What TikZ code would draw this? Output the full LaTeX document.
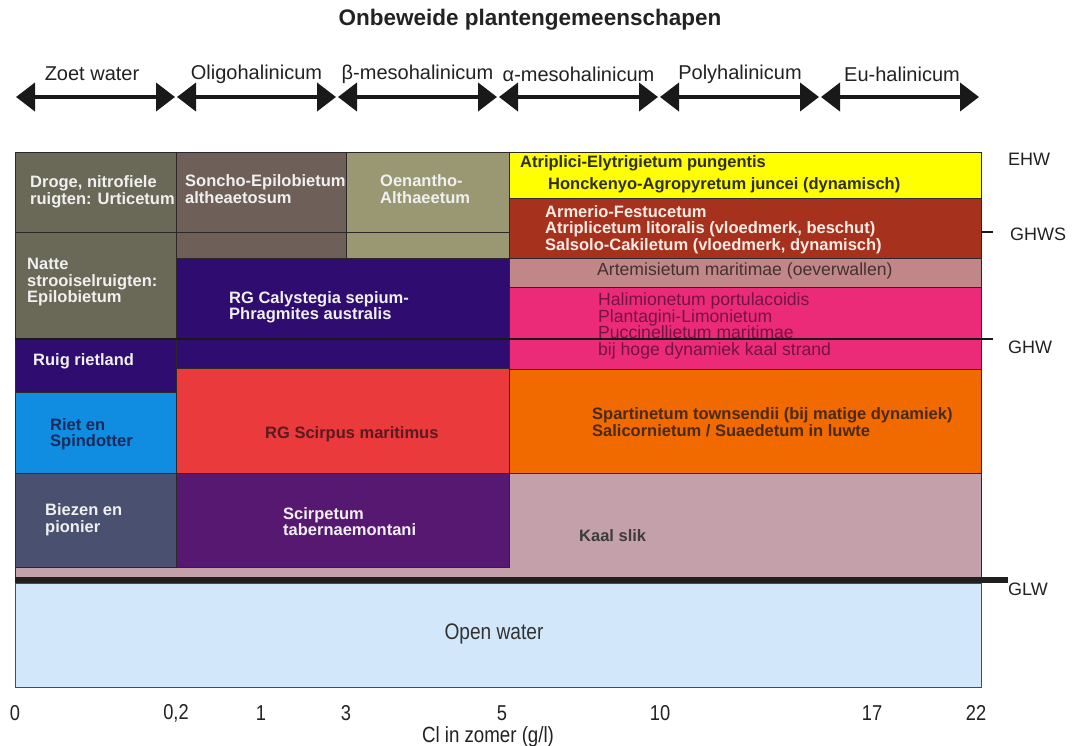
\documentclass[tikz,border=0pt]{standalone}
\usepackage{fontspec}
\setmainfont{Liberation Sans}
\newfontfamily\narrowfont[FakeStretch=0.85]{Liberation Sans}
\usetikzlibrary{arrows.meta}
\definecolor{olivegrey}{RGB}{106,105,88}
\definecolor{soncho}{RGB}{110,95,88}
\definecolor{oenantho}{RGB}{154,152,114}
\definecolor{indigo}{RGB}{46,12,112}
\definecolor{scirred}{RGB}{234,58,60}
\definecolor{rietblue}{RGB}{16,140,224}
\definecolor{biezen}{RGB}{74,81,112}
\definecolor{scirpurple}{RGB}{86,24,112}
\definecolor{yel}{RGB}{255,255,0}
\definecolor{brownred}{RGB}{166,50,30}
\definecolor{artem}{RGB}{192,134,136}
\definecolor{hotpink}{RGB}{236,43,120}
\definecolor{orng}{RGB}{240,106,0}
\definecolor{kaal}{RGB}{196,160,170}
\definecolor{openw}{RGB}{210,232,250}
\definecolor{bordercol}{RGB}{45,40,40}
\definecolor{txtdark}{RGB}{34,34,34}
\newcommand\boxfont{\fontsize{16.5}{16.5}\selectfont\bfseries}
\tikzset{
  zone/.style={draw=bordercol, line width=0.9pt},
  lbl/.style={font=\boxfont, inner sep=0pt, anchor=west, align=left},
  lblreg/.style={font=\fontsize{17.6}{16.8}\selectfont, inner sep=0pt, anchor=west, align=left},
  hdr/.style={font=\fontsize{20}{20}\selectfont, text=txtdark, inner sep=0pt},
  lvl/.style={font=\fontsize{18}{18}\selectfont, text=txtdark, inner sep=0pt, anchor=west},
  axnum/.style={font=\narrowfont\fontsize{21.5}{21.5}\selectfont, text=txtdark, inner sep=0pt},
  rangearrow/.style={line width=4pt, draw=black!90, {Triangle[length=19pt,width=28pt]}-{Triangle[length=19pt,width=28pt]}},
}
\begin{document}
\begin{tikzpicture}[x=1pt,y=-1pt]
\useasboundingbox[fill=white] (0,0) rectangle (1075,746);

% title
\node[font=\fontsize{22.5}{22.5}\selectfont\bfseries, text=txtdark, inner sep=0pt] (title) at (530,20) {Onbeweide plantengemeenschapen};

% salinity ranges
\foreach \i/\x in {0/15,1/176,2/337,3/498,4/659,5/820,6/980}{
  \coordinate (r\i) at (\x,97);
}
\draw[rangearrow] ([xshift=1pt]r0) -- ([xshift=-1pt]r1);
\draw[rangearrow] ([xshift=1pt]r1) -- ([xshift=-1pt]r2);
\draw[rangearrow] ([xshift=1pt]r2) -- ([xshift=-1pt]r3);
\draw[rangearrow] ([xshift=1pt]r3) -- ([xshift=-1pt]r4);
\draw[rangearrow] ([xshift=1pt]r4) -- ([xshift=-1pt]r5);
\draw[rangearrow] ([xshift=1pt]r5) -- ([xshift=-1pt]r6);
\node[hdr] (h1) at (92,74) {Zoet water};
\node[hdr] (h2) at (256.5,74) {Oligohalinicum};
\node[hdr] (h3) at (417.5,74) {β-mesohalinicum};
\node[hdr] (h4) at (578.5,74) {α-mesohalinicum};
\node[hdr] (h5) at (740,74) {Polyhalinicum};
\node[hdr] (h6) at (902,74) {Eu-halinicum};

% kaal slik background
\filldraw[zone, fill=kaal] (15,473) rectangle (981,577);

% left column
\filldraw[zone, fill=olivegrey] (15,152) rectangle (176,232);
\filldraw[zone, fill=olivegrey] (15,232) rectangle (176,338);
\filldraw[zone, fill=indigo] (15,338) rectangle (176,392);
\filldraw[zone, fill=rietblue] (15,392) rectangle (176,473);
\filldraw[zone, fill=biezen] (15,473) rectangle (176,567);

% middle column
\filldraw[zone, fill=soncho] (176,152) rectangle (346,232);
\filldraw[zone, fill=soncho] (176,232) rectangle (346,258);
\filldraw[zone, fill=oenantho] (346,152) rectangle (509,232);
\filldraw[zone, fill=oenantho] (346,232) rectangle (509,258);
\filldraw[zone, fill=indigo] (176,258) rectangle (509,368);
\filldraw[zone, fill=scirred] (176,368) rectangle (509,473);
\filldraw[zone, fill=scirpurple] (176,473) rectangle (509,567);

% right column
\filldraw[zone, fill=yel] (509,152) rectangle (981,198);
\filldraw[zone, fill=brownred] (509,198) rectangle (981,258);
\filldraw[zone, fill=artem] (509,258) rectangle (981,287);
\filldraw[zone, fill=hotpink] (509,287) rectangle (981,369);
\filldraw[zone, fill=orng] (509,369) rectangle (981,473);

% open water
\filldraw[draw=black!70, line width=0.9pt, fill=openw] (15,583) rectangle (981,687);

% level lines
\coordinate (ghwsA) at (981,232);
\coordinate (ghwsB) at (993,232);
\coordinate (ghwA) at (15,339);
\coordinate (ghwB) at (993,339);
\coordinate (glwA) at (15,580);
\coordinate (glwB) at (1008,580);
\draw[line width=1.6pt, black!90] (ghwsA) -- (ghwsB);
\draw[line width=2pt, black!90] (ghwA) -- (ghwB);
\draw[line width=6pt, black!88] (glwA) -- (glwB);

\node[lvl] (ehw) at (1008,159) {EHW};
\node[lvl] (ghws) at (1010,234) {GHWS};
\node[lvl] (ghw) at (1008,347) {GHW};
\node[lvl] (glw) at (1008,589) {GLW};

% texts left
\node[lbl, text=white!94!black] (droge) at (30,192) {Droge, nitrofiele\\ruigten: Urticetum};
\node[lbl, text=white!94!black] (natte) at (27,282.5) {Natte\\strooiselruigten:\\Epilobietum};
\node[lbl, text=white!94!black] (ruig) at (33,361.5) {Ruig rietland};
\node[lbl, text={rgb,255:red,26;green,42;blue,90}] (riet) at (50,434) {Riet en\\Spindotter};
\node[lbl, text=white!94!black] (biezen) at (45,519.5) {Biezen en\\pionier};

% texts middle
\node[lbl, text=white!94!black] (sonchot) at (185,189) {Soncho-Epilobietum\\altheaetosum};
\node[lbl, text=white!94!black] (oenanthot) at (380,189) {Oenantho-\\Althaeetum};
\node[lbl, text=white!94!black] (calyst) at (229,307.5) {RG Calystegia sepium-\\Phragmites australis};
\node[lbl, text={rgb,255:red,90;green,26;blue,32}] (scirpus) at (265,434.5) {RG Scirpus maritimus};
\node[lbl, text=white!94!black] (scirpetum) at (283,521.5) {Scirpetum\\tabernaemontani};

% texts right
\node[lbl, text={rgb,255:red,47;green,47;blue,16}] (atriplici) at (520,163.5) {Atriplici-Elytrigietum pungentis};
\node[lbl, text={rgb,255:red,47;green,47;blue,16}] (honck) at (548,185.5) {Honckenyo-Agropyretum juncei (dynamisch)};
\node[lbl, text={rgb,255:red,248;green,236;blue,228}] (armerio) at (545,229.5) {Armerio-Festucetum\\Atriplicetum litoralis (vloedmerk, beschut)\\Salsolo-Cakiletum (vloedmerk, dynamisch)};
\node[lblreg, text={rgb,255:red,70;green,48;blue,48}] (artemt) at (597,270.5) {Artemisietum maritimae (oeverwallen)};
\node[lblreg, text={rgb,255:red,118;green,18;blue,70}] (halim) at (598,326) {Halimionetum portulacoidis\\Plantagini-Limonietum\\Puccinellietum maritimae\\bij hoge dynamiek kaal strand};
\node[lbl, text={rgb,255:red,74;green,42;blue,16}] (spart) at (592,422) {Spartinetum townsendii (bij matige dynamiek)\\Salicornietum / Suaedetum in luwte};
\node[lbl, text={rgb,255:red,60;green,60;blue,60}] (kaalt) at (579,535.5) {Kaal slik};
\node[axnum, font=\narrowfont\fontsize{22.5}{22.5}\selectfont, text={rgb,255:red,50;green,50;blue,50}] (openwt) at (494,634) {Open water};

% axis
\node[axnum] (a0) at (15,713) {0};
\node[axnum] (a1) at (176,713) {0,2};
\node[axnum] (a2) at (261,713) {1};
\node[axnum] (a3) at (346,713) {3};
\node[axnum] (a4) at (502,713) {5};
\node[axnum] (a5) at (660,713) {10};
\node[axnum] (a6) at (872,713) {17};
\node[axnum] (a7) at (976,713) {22};
\node[axnum, font=\narrowfont\fontsize{22}{22}\selectfont] (axcap) at (488,737) {Cl in zomer (g/l)};
\end{tikzpicture}
\end{document}
